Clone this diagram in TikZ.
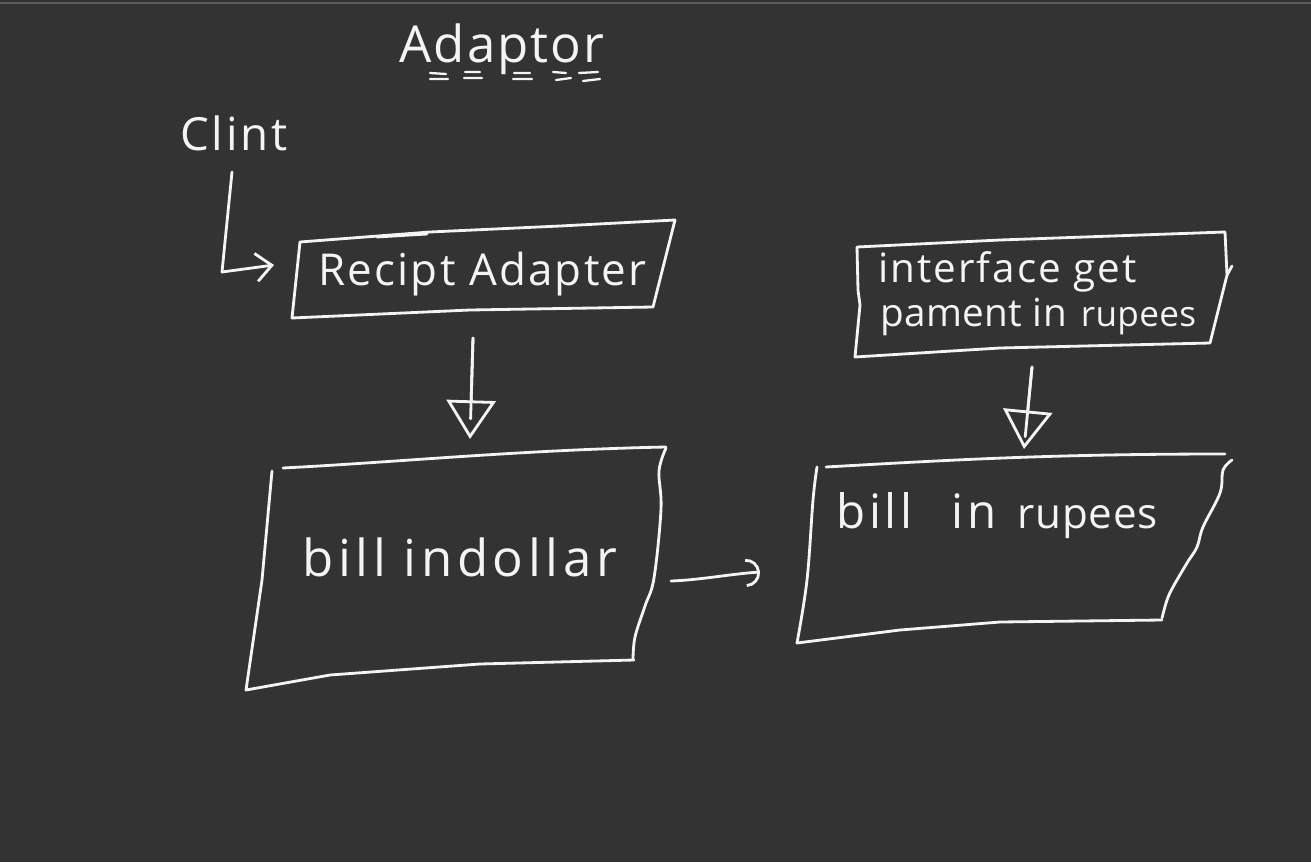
\documentclass[tikz,border=0pt]{standalone}
\usepackage{fontspec}
\setmainfont{Open Sans}
\usetikzlibrary{arrows.meta,calc}
\definecolor{bgc}{HTML}{333333}
\definecolor{inkc}{HTML}{F4F4F4}
\definecolor{rimc}{HTML}{5C5C5C}
\begin{document}
\begin{tikzpicture}[x=0.02cm,y=-0.02cm,
  ink/.style={draw=inkc, line width=1.6pt, line cap=round, line join=round},
  thinink/.style={draw=inkc, line width=1.3pt, line cap=round},
  lbl/.style={text=inkc, inner sep=0pt, anchor=base west},
  downtip/.style={-{Triangle[open, length=22pt, width=28pt]}},
]
\fill[bgc] (0,0) rectangle (1311,862);
\useasboundingbox (0,0) rectangle (1311,862);
\draw[rimc, line width=1.2pt] (0,3) -- (1311,3);

% title
\node[lbl, anchor=base, font=\fontsize{29}{34}\selectfont\addfontfeatures{LetterSpace=4}] (title) at (502,62) {Adaptor};
\draw[thinink] (430,73) -- (446,74) (430,79) -- (448,79)
               (465,72) -- (480,72) (464,78) -- (482,78)
               (514,73) -- (530,73) (513,79) -- (532,79)
               (553,72) -- (566,73) (556,80) -- (571,78)
               (579,73) -- (598,72) (583,81) -- (600,79);

% client
\node[lbl, font=\fontsize{26}{30}\selectfont\addfontfeatures{LetterSpace=6}] (clint) at (180,150) {Clint};
\coordinate (clint-out) at (232,172);
\coordinate (clint-knee) at (222,272);

% Recipt Adapter box
\draw[ink] (300,242) -- (430,232) -- (560,226) -- (675,220) -- (653,307) -- (470,310) -- (292,318) -- cycle;
\draw[ink] (377,237) -- (427,234);
\node[lbl, font=\fontsize{25}{30}\selectfont\addfontfeatures{LetterSpace=5}] (recipt) at (318,285) {Recipt Adapter};
\coordinate (ra-in) at (274,265);
\coordinate (ra-out) at (473,338);

% interface box
\draw[ink] (857,247) -- (1000,240) -- (1225,232) -- (1227,275) -- (1210,343) -- (1000,348) -- (855,357) -- (860,305) -- (858,290) -- cycle;
\draw[ink] (1227,275) -- (1232,266);
\node[lbl, font=\fontsize{23}{25}\selectfont\addfontfeatures{LetterSpace=5}] (iface) at (878,282) {interface get};
\node[lbl, font=\fontsize{22}{25}\selectfont\addfontfeatures{LetterSpace=1}] (iface2) at (880,326) {pament in\hspace{8pt}{\fontsize{20}{24}\selectfont rupees}};
\coordinate (if-out) at (1032,367);

% bill in dollar box
\draw[ink] (272,471) -- (262,580) -- (246,690) -- (330,675) -- (480,664) -- (634,660);
\draw[ink] (283,468) .. controls (400,462) and (520,450) .. (666,447);
\draw[ink] plot[smooth, tension=0.6] coordinates {(666,448) (659,471) (661,509) (654,578) (645,606) (635,637) (633,660)};
\node[lbl, font=\fontsize{29}{32}\selectfont\addfontfeatures{LetterSpace=9}] (dollar) at (302,576) {bill indollar};
\coordinate (bd-in) at (470,439);
\coordinate (bd-out) at (671,581);

% bill in rupees box
\draw[ink] (826,467) .. controls (950,460) and (1050,454) .. (1225,454);
\draw[ink] plot[smooth, tension=0.6] coordinates {(817,467) (813,500) (807,580) (797,643)};
\draw[ink] (797,643) -- (900,630) -- (1000,622) -- (1162,620);
\draw[ink] plot[smooth, tension=0.6] coordinates {(1232,460) (1223,470) (1220,493) (1203,527) (1197,547) (1187,563) (1173,587) (1167,600) (1162,618)};
\node[lbl, font=\fontsize{27}{32}\selectfont\addfontfeatures{LetterSpace=8}] (rupees) at (836,528) {bill\hspace{22pt}in\hspace{12pt}{\fontsize{24}{28}\selectfont\addfontfeatures{LetterSpace=2}rupees}};
\coordinate (br-in) at (1024,449);
\coordinate (br-left) at (760,572);

% connectors
\draw[ink, -{Straight Barb[length=9pt, width=16pt]}] (clint-out) -- (clint-knee) -- (ra-in);
\draw[ink] (ra-out) -- ($(ra-out)!0.8!(bd-in)$);
\draw[ink, downtip] (ra-out) -- (bd-in);
\draw[ink] (if-out) -- ($(if-out)!0.85!(br-in)$);
\draw[ink, downtip] (if-out) -- (br-in);
\draw[ink, -{Arc Barb[length=8pt, width=16pt]}] (bd-out) .. controls (700,580) and (730,574) .. (br-left);
\end{tikzpicture}
\end{document}
